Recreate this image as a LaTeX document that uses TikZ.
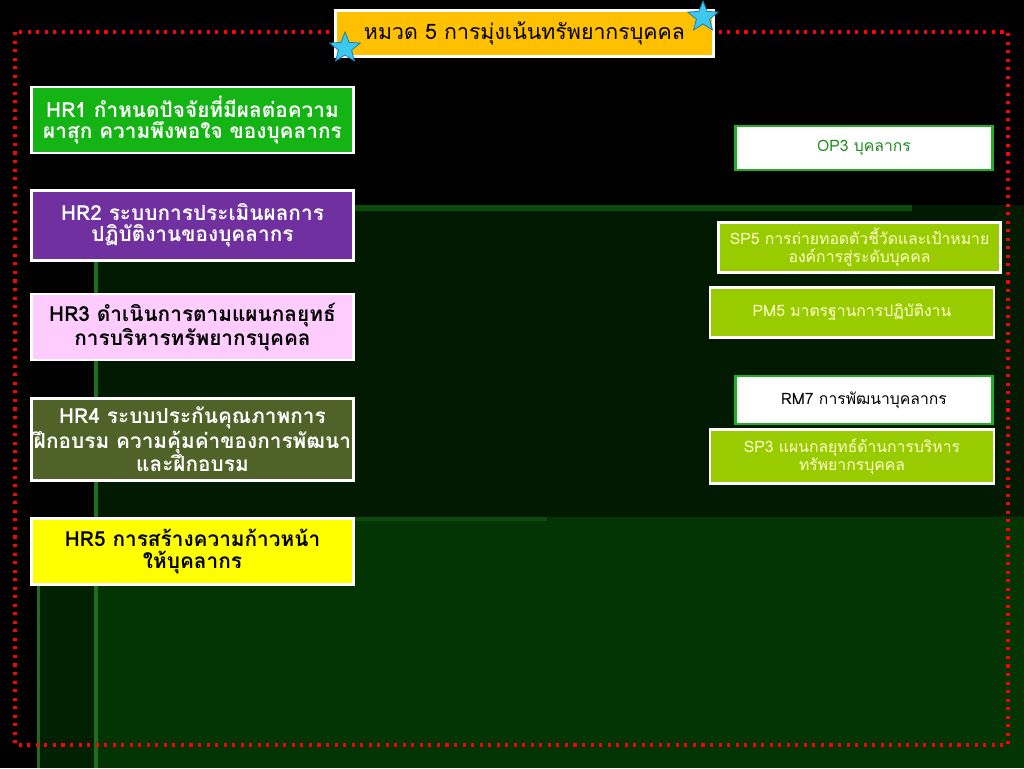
\documentclass[tikz,border=0pt]{standalone}
\usepackage{fontspec}
\newfontfamily\thaifont[Script=Thai]{Loma}
\usetikzlibrary{shapes.geometric}

\definecolor{hijau}{HTML}{14B414}
\definecolor{ungu}{HTML}{7030A0}
\definecolor{merahmuda}{HTML}{FFCCFF}
\definecolor{zaitun}{HTML}{4F6228}
\definecolor{kuning}{HTML}{FFFF00}
\definecolor{emas}{HTML}{FFC000}
\definecolor{limau}{HTML}{99CC00}
\definecolor{krem}{HTML}{FFFFCC}
\definecolor{garishijau}{HTML}{22B022}
\definecolor{latara}{HTML}{021A02}
\definecolor{latarb}{HTML}{022002}
\definecolor{latarc}{HTML}{033403}
\definecolor{strip}{HTML}{0B4B0B}
\definecolor{tegak}{HTML}{1E6E1E}
\definecolor{langit}{HTML}{3DC8F0}
\definecolor{langittua}{HTML}{1B7FB0}

\begin{document}
\begin{tikzpicture}[x=0.75pt,y=-0.75pt,
    kiri/.style={draw=white,line width=2.2pt,align=center,inner sep=1pt,
      font=\thaifont\bfseries\fontsize{15.6}{15.8}\selectfont,
      minimum width=242pt,text width=238pt},
    kanan/.style={draw=white,line width=2.2pt,align=center,inner sep=1pt,
      fill=limau,text=krem,font=\thaifont\fontsize{11.8}{13.5}\selectfont,
      minimum width=213pt,minimum height=38pt,text width=206pt},
    putih/.style={draw=garishijau,line width=2.2pt,fill=white,align=center,
      font=\thaifont\fontsize{11.8}{13.5}\selectfont,
      minimum width=193pt,minimum height=33pt},
    judul/.style={draw=white,line width=2.2pt,fill=emas,inner sep=1pt,
      font=\thaifont\fontsize{16}{18}\selectfont,
      minimum width=283pt,minimum height=35pt},
    bintang/.style={star,star points=5,star point ratio=2.3,
      minimum size=24pt,inner sep=0pt,fill=langit,draw=langittua,
      line width=0.6pt}]

  % Latar hitam dan bidang hijau gelap
  \useasboundingbox (0,0) rectangle (1024,768);
  \fill[black] (0,0) rectangle (1024,768);
  \fill[latara] (95,205) rectangle (1024,768);
  \fill[latarb] (37,517) rectangle (95,768);
  \fill[latarc] (95,517) rectangle (1024,768);
  \fill[strip] (355,205) rectangle (912,211);
  \fill[strip] (355,517) rectangle (547,521);
  \fill[tegak] (94,205) rectangle (98,768);
  \fill[tegak] (37,585) rectangle (40,768);

  % Bingkai titik merah
  \draw[red,line width=2.3pt,dash pattern=on 2.3pt off 4.1pt]
    (15,32) rectangle (1008,745);

  % Judul
  \node[judul] (judul) at (524.5,33.5)
    {หมวด 5 การมุ่งเน้นทรัพยากรบุคคล};
  \node[bintang] (b1) at (345,48) {};
  \node[bintang] (b2) at (703,17) {};

  % Kolom kiri: HR1--HR5
  \node[kiri,fill=hijau,text=white,minimum height=49.5pt] (hr1) at (192.5,120)
    {HR1 กำหนดปัจจัยที่มีผลต่อความ\\ผาสุก ความพึงพอใจ ของบุคลากร};
  \node[kiri,fill=ungu,text=white,minimum height=53pt] (hr2) at (192.5,225.5)
    {HR2 ระบบการประเมินผลการ\\ปฏิบัติงานของบุคลากร};
  \node[kiri,fill=merahmuda,text=black,minimum height=49.5pt] (hr3) at (192.5,327)
    {HR3 ดำเนินการตามแผนกลยุทธ์\\การบริหารทรัพยากรบุคคล};
  \node[kiri,fill=zaitun,text=white,minimum height=62pt] (hr4) at (192.5,439.5)
    {HR4 ระบบประกันคุณภาพการ\\ฝึกอบรม ความคุ้มค่าของการพัฒนา\\และฝึกอบรม};
  \node[kiri,fill=kuning,text=black,minimum height=50pt] (hr5) at (192.5,551.5)
    {HR5 การสร้างความก้าวหน้า\\ให้บุคลากร};

  % Kolom kanan
  \node[putih,text=garishijau!80!black] (op3) at (864,148) {OP3 บุคลากร};
  \node[kanan,minimum width=212pt] (sp5) at (859.5,247.5)
    {SP5 การถ่ายทอดตัวชี้วัดและเป้าหมาย\\องค์การสู่ระดับบุคคล};
  \node[kanan] (pm5) at (852,312.5) {PM5 มาตรฐานการปฏิบัติงาน};
  \node[putih,text=black,minimum height=36pt] (rm7) at (864,400)
    {RM7 การพัฒนาบุคลากร};
  \node[kanan,minimum height=40pt] (sp3) at (852,456.5)
    {SP3 แผนกลยุทธ์ด้านการบริหาร\\ทรัพยากรบุคคล};
\end{tikzpicture}
\end{document}
